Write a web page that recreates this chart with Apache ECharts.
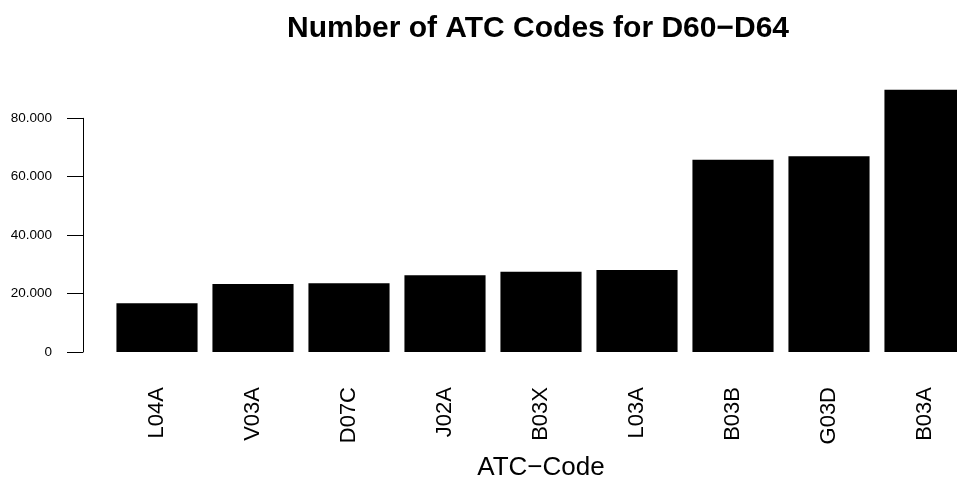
<!DOCTYPE html>
<html>
<head>
<meta charset="utf-8">
<script src="https://cdn.jsdelivr.net/npm/echarts@6/dist/echarts.min.js"></script>
<style>
  html, body { margin: 0; padding: 0; background: #fff; }
  #chart { width: 957px; height: 477px; }
</style>
</head>
<body>
<div id="chart"></div>
<script>
// ATC codes and their counts, sorted ascending
const atcCodes = ['L04A', 'V03A', 'D07C', 'J02A', 'B03X', 'L03A', 'B03B', 'G03D', 'B03A'];
const codeCounts = [16700, 23300, 23500, 26300, 27500, 28100, 65800, 67000, 89800];
const yTicks = [0, 20000, 40000, 60000, 80000];

const FONT = '"Liberation Sans", Arial, sans-serif';

// German thousands separator: 20000 -> "20.000"
function fmtThousands(v) {
  return String(Math.round(v)).replace(/\B(?=(\d{3})+(?!\d))/g, '.');
}

const chart = echarts.init(document.getElementById('chart'), null, { renderer: 'canvas' });

chart.setOption({
  backgroundColor: '#ffffff',
  animation: false,
  textStyle: { fontFamily: FONT },
  title: {
    text: 'Number of ATC Codes for D60\u2212D64',
    left: 533,
    textAlign: 'center',
    top: 9,
    textStyle: { fontFamily: FONT, fontWeight: 'bold', fontSize: 30, color: '#000' }
  },
  // plot region runs past the right edge of the canvas
  grid: {
    left: 109, top: 118.3, width: 864, height: 233.7,
    containLabel: false,
    outerBoundsMode: 'none'
  },
  xAxis: {
    type: 'category',
    data: atcCodes,
    axisLine: { show: false },
    axisTick: { show: false },
    axisLabel: {
      rotate: 90,
      margin: 35,
      fontSize: 22,
      color: '#000',
      fontFamily: FONT
    },
    name: 'ATC\u2212Code',
    nameLocation: 'middle',
    nameGap: 103,
    nameTextStyle: { fontSize: 26, color: '#000', fontFamily: FONT }
  },
  yAxis: {
    type: 'value',
    min: yTicks[0],
    max: yTicks[yTicks.length - 1],
    interval: yTicks[1] - yTicks[0],
    offset: 26,
    splitLine: { show: false },
    axisLine: { show: true, lineStyle: { color: '#000', width: 1 } },
    axisTick: { show: true, length: 16, lineStyle: { color: '#000', width: 1 } },
    axisLabel: {
      margin: 31,
      fontSize: 13.5,
      color: '#000',
      fontFamily: FONT,
      formatter: fmtThousands
    }
  },
  series: [{
    type: 'bar',
    data: codeCounts,
    clip: false,
    barCategoryGap: '15.5%',
    itemStyle: { color: '#000', borderColor: '#000', borderWidth: 0 }
  }]
});
</script>
</body>
</html>
